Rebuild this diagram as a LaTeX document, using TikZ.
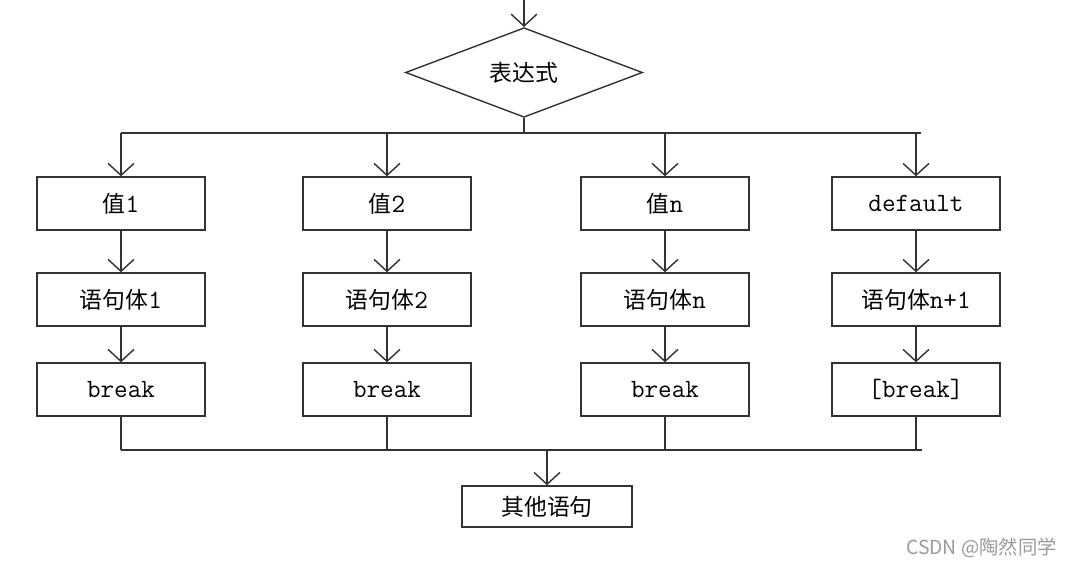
\documentclass[tikz,border=0pt]{standalone}
\usepackage{fontspec}
\usepackage{tikz}
\usetikzlibrary{positioning,arrows.meta,shapes.geometric}
\newfontfamily\zhfont{Noto Sans CJK SC}
\definecolor{ink}{HTML}{333333}
\definecolor{mark}{HTML}{9A9A9A}

\begin{document}
\begin{tikzpicture}[
        box/.style={rectangle, draw=ink, line width=0.8pt, minimum width=3.36cm,
        minimum height=1.06cm, inner sep=2pt, font=\ttfamily\fontsize{15}{17}\selectfont},
        cond/.style={diamond, draw=ink, line width=0.8pt, minimum width=4.74cm,
        minimum height=1.5cm, inner sep=0pt, font=\fontsize{13}{15}\selectfont},
        flow/.style={-{Straight Barb[length=2.4mm, width=5.2mm]}, line width=0.8pt, ink},
        wire/.style={line width=0.8pt, ink},
      ]
      \useasboundingbox[fill=white] (0, 0) rectangle (21.76, -11.44);

      \coordinate (entry) at (10.48, 0);
      \node[cond] (expr) at (10.48, -1.45) {\zhfont 表达式};
      \draw[flow] (entry) -- (expr.north);

      % case values
      \node[box] (val1) at (2.42, -4.07) {{\zhfont\fontsize{13}{15}\selectfont 值}1};
      \node[box] (val2) at (7.74, -4.07) {{\zhfont\fontsize{13}{15}\selectfont 值}2};
      \node[box] (valn) at (13.30, -4.07) {{\zhfont\fontsize{13}{15}\selectfont 值}n};
      \node[box] (dflt) at (18.32, -4.07) {default};

      % statement bodies
      \node[box] (body1) at (2.42, -5.99) {{\zhfont\fontsize{13}{15}\selectfont 语句体}1};
      \node[box] (body2) at (7.74, -5.99) {{\zhfont\fontsize{13}{15}\selectfont 语句体}2};
      \node[box] (bodyn) at (13.30, -5.99) {{\zhfont\fontsize{13}{15}\selectfont 语句体}n};
      \node[box] (bodyd) at (18.32, -5.99) {{\zhfont\fontsize{13}{15}\selectfont 语句体}n+1};

      % breaks
      \node[box] (brk1) at (2.42, -7.79) {break};
      \node[box] (brk2) at (7.74, -7.79) {break};
      \node[box] (brkn) at (13.30, -7.79) {break};
      \node[box] (brkd) at (18.32, -7.79) {[break]};

      \node[box, minimum width=3.4cm, minimum height=0.82cm,
      font=\zhfont\fontsize{13}{15}\selectfont] (rest) at (10.94, -10.13) {其他语句};

      % split bus
      \coordinate (split) at (10.48, -2.66);
      \draw[wire] (expr.south) -- (split);
      \draw[wire] (val1.north |- split) -- ([xshift=0.1cm]dflt.north |- split);
      \draw[flow] (val1.north |- split) -- (val1.north);
      \draw[flow] (val2.north |- split) -- (val2.north);
      \draw[flow] (valn.north |- split) -- (valn.north);
      \draw[flow] (dflt.north |- split) -- (dflt.north);

      \draw[flow] (val1) -- (body1);
      \draw[flow] (val2) -- (body2);
      \draw[flow] (valn) -- (bodyn);
      \draw[flow] (dflt) -- (bodyd);

      \draw[flow] (body1) -- (brk1);
      \draw[flow] (body2) -- (brk2);
      \draw[flow] (bodyn) -- (brkn);
      \draw[flow] (bodyd) -- (brkd);

      % join bus
      \coordinate (join) at (10.94, -9.0);
      \draw[wire] (brk1.south |- join) -- ([xshift=0.12cm]brkd.south |- join);
      \draw[wire] (brk1.south) -- (brk1.south |- join);
      \draw[wire] (brk2.south) -- (brk2.south |- join);
      \draw[wire] (brkn.south) -- (brkn.south |- join);
      \draw[wire] (brkd.south) -- (brkd.south |- join);
      \draw[flow] (join) -- (rest.north);

      \node[font=\zhfont\fontsize{11}{13}\selectfont, text=mark, anchor=east]
      (wmark) at (21.26, -10.96) {CSDN @陶然同学};
    \end{tikzpicture}
\end{document}
